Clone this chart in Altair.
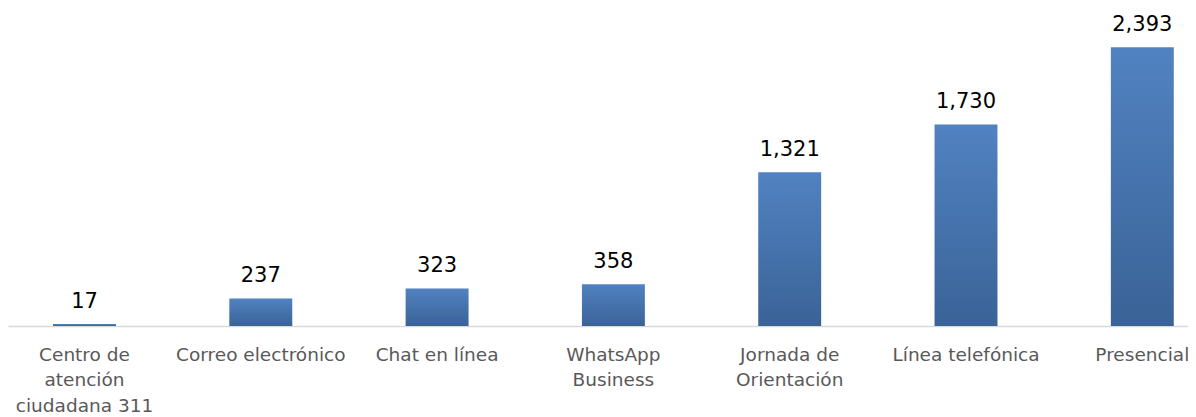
import altair as alt
import pandas as pd

categories = ["Centro de atención ciudadana 311", "Correo electrónico", "Chat en línea",
              "WhatsApp Business", "Jornada de Orientación", "Línea telefónica", "Presencial"]
values = [17, 237, 323, 358, 1321, 1730, 2393]

df = pd.DataFrame({"canal": categories, "valor": values})

label_expr = (
    "datum.value == 'Centro de atención ciudadana 311' ? ['Centro de', 'atención', 'ciudadana 311'] : "
    "datum.value == 'WhatsApp Business' ? ['WhatsApp', 'Business'] : "
    "datum.value == 'Jornada de Orientación' ? ['Jornada de', 'Orientación'] : datum.value"
)

FONT = "DejaVu Sans"

x = alt.X("canal:N", sort=categories, title=None,
          scale=alt.Scale(paddingInner=0.643, paddingOuter=0.168, align=0.76),
          axis=alt.Axis(labelAngle=0, labelExpr=label_expr, labelFont=FONT, labelFontSize=18.5,
                        labelColor="#595959", labelPadding=19, labelLineHeight=25.5,
                        ticks=False, domainColor="#d9d9d9", domainWidth=1.5,
                        labelBaseline="top", labelLimit=300))
y = alt.Y("valor:Q", title=None, scale=alt.Scale(domain=[0, 2730], nice=False), axis=None)

bars = alt.Chart(df).mark_bar(
    color=alt.Gradient(gradient="linear",
                       stops=[alt.GradientStop(color="#5182c1", offset=0),
                              alt.GradientStop(color="#3a6397", offset=1)],
                       x1=0, x2=0, y1=0, y2=1)
).encode(x=x, y=y)

text = alt.Chart(df).mark_text(baseline="bottom", dy=-12, font=FONT, fontSize=21, color="#000000").encode(
    x=alt.X("canal:N", sort=categories), y=y, text=alt.Text("valor:Q", format=","))

chart = (bars + text).properties(
    width=1180, height=318,
    autosize=alt.AutoSizeParams(type="none"),
    padding={"left": 0, "top": 0, "right": 0, "bottom": 100},
).configure_view(stroke=None)

chart.save("out.html", embed_options={"renderer": "svg", "actions": False})
